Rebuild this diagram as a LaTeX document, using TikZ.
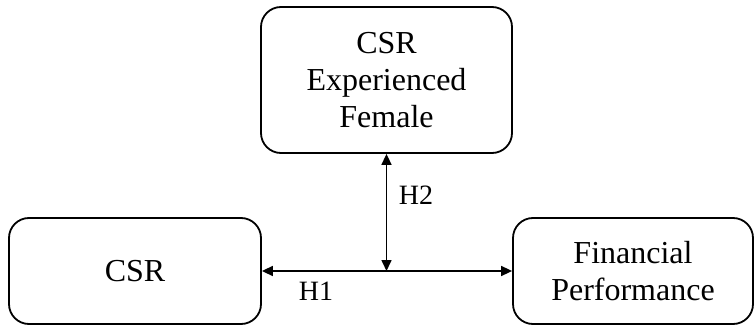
\documentclass[tikz,border=0pt]{standalone}
\usepackage{fontspec}
\setmainfont{Liberation Serif}
\usetikzlibrary{arrows.meta}

\tikzset{varbox/.style={draw,rounded corners=20pt,line width=1.8pt,align=center,inner sep=0pt,font=\fontsize{32}{37}\selectfont},
  hyp/.style={font=\fontsize{28}{30}\selectfont,inner sep=0pt}}

\begin{document}
\begin{tikzpicture}[x=1pt,y=-1pt,>={Triangle[length=11pt,width=10pt]},line width=1.6pt]
\useasboundingbox (0,0) rectangle (755,326);
\node[varbox,minimum width=251pt,minimum height=146pt] (cef) at (386.5,80) {CSR\\Experienced\\Female};
\node[varbox,minimum width=252pt,minimum height=106pt] (csr) at (135,271) {CSR};
\node[varbox,minimum width=240pt,minimum height=106pt] (fp) at (633,271) {Financial\\Performance};
\coordinate (mid) at (cef.south |- csr.east);
\draw[<->] (csr.east)--(fp.west);
\draw[<->] (cef.south)--(mid);
\node[hyp] (h2) at (416,195) {H2};
\node[hyp] (h1) at (316,291) {H1};
\end{tikzpicture}
\end{document}
